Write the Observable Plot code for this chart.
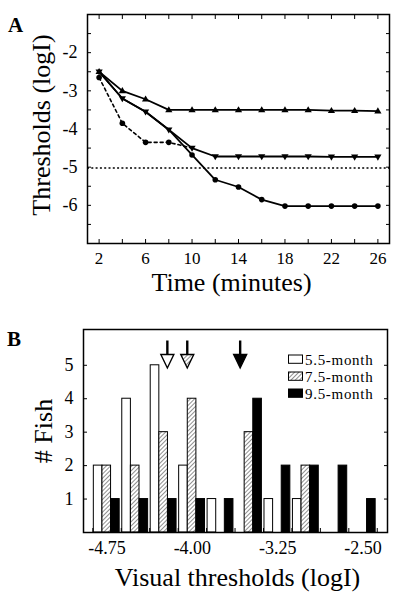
<!DOCTYPE html>
<html>
<head>
<meta charset="utf-8">
<script src="https://cdn.jsdelivr.net/npm/d3@7"></script>
<script src="https://cdn.jsdelivr.net/npm/@observablehq/plot@0.6"></script>
<style>
  html, body { margin: 0; padding: 0; background: #fff; }
  #wrap { position: relative; width: 400px; height: 602px; font-family: "Liberation Serif", "Times New Roman", serif; }
  #wrap > div > svg { display: block; }
  #overlay { position: absolute; left: 0; top: 0; pointer-events: none; }
</style>
</head>
<body>
<svg width="0" height="0" style="position:absolute">
  <defs>
    <pattern id="hatch" patternUnits="userSpaceOnUse" width="3" height="3" patternTransform="rotate(45)">
      <rect width="3" height="3" fill="white"></rect>
      <line x1="0" y1="0" x2="0" y2="3" stroke="#222" stroke-width="1"></line>
    </pattern>
  </defs>
</svg>
<div id="wrap">
  <div id="panelA"></div>
  <div id="panelB"></div>
</div>
<script>
// ---------------- Panel A data ----------------
const times = [2, 4, 6, 8, 10, 12, 14, 16, 18, 20, 22, 24, 26];
const seriesUp = [-2.5, -3.0, -3.22, -3.5, -3.5, -3.5, -3.5, -3.5, -3.5, -3.5, -3.52, -3.52, -3.53];
const seriesDown = [-2.5, -3.2, -3.55, -4.02, -4.5, -4.72, -4.72, -4.72, -4.72, -4.72, -4.73, -4.73, -4.73];
const seriesDotSolid = [-2.5, -3.2, -3.55, -4.02, -4.68, -5.33, -5.52, -5.85, -6.02, -6.02, -6.02, -6.02, -6.02];
const seriesDotDashed = [-2.65, -3.85, -4.35, -4.35, -4.5, null, null, null, null, null, null, null, null];
const referenceLevel = -5.02;
const xTickLabelsA = [2, 6, 10, 14, 18, 22, 26];
const xMinorA = [2, 4, 6, 8, 10, 12, 14, 16, 18, 20, 22, 24, 26];
const yTickLabelsA = [-2, -3, -4, -5, -6];
const yMinorA = [-6.5, -6, -5.5, -5, -4.5, -4, -3.5, -3, -2.5, -2, -1.5];
const xLabelA = "Time (minutes)";
const yLabelA = "Thresholds (logI)";

// ---------------- Panel B data ----------------
const binCenters = [-4.75, -4.5, -4.25, -4.0, -3.75, -3.5, -3.25, -3.0, -2.75, -2.5];
const ages = ["5.5-month", "7.5-month", "9.5-month"];
const counts55 = [2, 4, 5, 2, 1, 0, 1, 1, 0, 0];
const counts75 = [2, 2, 3, 4, 0, 3, 0, 2, 0, 0];
const counts95 = [1, 1, 1, 1, 1, 4, 2, 2, 2, 1];
const meanArrows = [-4.22, -4.045, -3.58];
const xTickLabelsB = [-4.75, -4.0, -3.25, -2.5];
const yTickLabelsB = [1, 2, 3, 4, 5];
const xLabelB = "Visual thresholds (logI)";
const yLabelB = "# Fish";

const FONT = "'Liberation Serif', 'Times New Roman', serif";

// symbols
const triUp = { draw(ctx, size) { const r = Math.sqrt(size / Math.PI); ctx.moveTo(0, -r * 1.05); ctx.lineTo(r, r * 0.65); ctx.lineTo(-r, r * 0.65); ctx.closePath(); } };
const triDown = { draw(ctx, size) { const r = Math.sqrt(size / Math.PI); ctx.moveTo(0, r * 1.05); ctx.lineTo(r, -r * 0.65); ctx.lineTo(-r, -r * 0.65); ctx.closePath(); } };
const arrowShaft = { draw(ctx) { ctx.moveTo(-1.2, -14); ctx.lineTo(1.2, -14); ctx.lineTo(1.2, 1); ctx.lineTo(-1.2, 1); ctx.closePath(); } };
const arrowHead = { draw(ctx) { ctx.moveTo(-6.5, 0); ctx.lineTo(6.5, 0); ctx.lineTo(0, 13.5); ctx.closePath(); } };

const rowsOf = (vals, name) => times.map((t, i) => ({t, v: vals[i], s: name})).filter(d => d.v != null);
const upRows = rowsOf(seriesUp, "up");
const downRows = rowsOf(seriesDown, "down");
const dotSolidRows = rowsOf(seriesDotSolid, "dotSolid");
const dotDashedRows = rowsOf(seriesDotDashed, "dotDashed");
const solidRows = [...upRows, ...downRows, ...dotSolidRows];
// a circle hidden under a triangle marker at the same point is not drawn
const notUnderTriangle = d => {
  const i = times.indexOf(d.t);
  return seriesDown[i] !== d.v && seriesUp[i] !== d.v;
};

const plotA = Plot.plot({
  width: 400, height: 300,
  marginTop: 14, marginLeft: 87, marginRight: 11, marginBottom: 57,
  style: {fontFamily: FONT, color: "black", background: "white", overflow: "visible"},
  x: {domain: [1, 27]},
  y: {domain: [-7, -1]},
  marks: [
    Plot.ruleY([referenceLevel], {strokeDasharray: "2,2.3", strokeWidth: 1.6}),
    Plot.line(solidRows, {x: "t", y: "v", z: "s", stroke: "black", strokeWidth: 1.8}),
    Plot.line(dotDashedRows, {x: "t", y: "v", stroke: "black", strokeWidth: 1.6, strokeDasharray: "3,3"}),
    Plot.dot(dotDashedRows.filter(notUnderTriangle), {x: "t", y: "v", r: 2.8, fill: "black"}),
    Plot.dot(dotSolidRows.filter(notUnderTriangle), {x: "t", y: "v", r: 2.8, fill: "black"}),
    Plot.dot(upRows, {x: "t", y: "v", r: 3.6, symbol: triUp, fill: "black"}),
    Plot.dot(downRows, {x: "t", y: "v", r: 3.6, symbol: triDown, fill: "black"}),
    Plot.axisX(xMinorA, {anchor: "bottom", tickSize: -4, fill: "none", label: null}),
    Plot.axisX(xMinorA, {anchor: "top", tickSize: -4, fill: "none", label: null}),
    Plot.axisX(xTickLabelsA, {anchor: "bottom", tickSize: 0, tickPadding: 8, fontSize: 17, label: null}),
    Plot.axisY(yMinorA, {anchor: "left", tickSize: -4, fill: "none", label: null}),
    Plot.axisY(yMinorA, {anchor: "right", tickSize: -4, fill: "none", label: null}),
    Plot.axisY(yTickLabelsA, {anchor: "left", tickSize: 0, tickPadding: 10, fontSize: 18, tickFormat: d => String(d), label: null}),
    Plot.frame({stroke: "black", strokeWidth: 1.5}),
    Plot.text([xLabelA], {text: d => d, frameAnchor: "bottom", dy: 39, dx: -7, fontSize: 26, textAnchor: "middle", lineAnchor: "middle"}),
    Plot.text([yLabelA], {text: d => d, frameAnchor: "left", dx: -46, dy: -4, rotate: -90, fontSize: 26, textAnchor: "middle", lineAnchor: "middle"})
  ]
});
document.getElementById("panelA").appendChild(plotA);

// ---------------- Panel B ----------------
const binWidth = 0.25;
const barWidth = binWidth * 0.303;
const barStart = binWidth * 0.035;
const countsByAge = [counts55, counts75, counts95];
const barRows = [];
ages.forEach((age, a) => binCenters.forEach((c, i) => {
  const n = countsByAge[a][i];
  if (n > 0) barRows.push({bin: c, a, age, n});
}));
const binEdges = [...binCenters.map(c => c - binWidth / 2), binCenters[binCenters.length - 1] + binWidth / 2];
const arrowRows = meanArrows.map((x, i) => ({x, age: ages[i]}));

const plotB = Plot.plot({
  width: 400, height: 302,
  marginTop: 29, marginLeft: 83, marginRight: 13, marginBottom: 70,
  style: {fontFamily: FONT, color: "black", background: "white", overflow: "visible"},
  x: {domain: [-4.957, -2.285]},
  y: {domain: [0, 6.07]},
  color: {domain: ages, range: ["white", "url(#hatch)", "black"]},
  marks: [
    Plot.rectY(barRows, {
      x1: d => d.bin - binWidth / 2 + barStart + d.a * barWidth,
      x2: d => d.bin - binWidth / 2 + barStart + (d.a + 1) * barWidth,
      y: "n", fill: "age", stroke: "black", strokeWidth: 1
    }),
    Plot.dot(arrowRows, {x: "x", frameAnchor: "top", dy: 25, r: 5, symbol: arrowShaft, fill: "black"}),
    Plot.dot(arrowRows, {x: "x", frameAnchor: "top", dy: 25, r: 5, symbol: arrowHead, fill: "age", stroke: "black", strokeWidth: 1.4}),
    Plot.axisX(binEdges, {anchor: "bottom", tickSize: -4, fill: "none", label: null}),
    Plot.axisX(xTickLabelsB, {anchor: "bottom", tickSize: 0, tickPadding: 9, fontSize: 18, tickFormat: d => d.toFixed(2), label: null}),
    Plot.axisY(yTickLabelsB, {anchor: "left", tickSize: -4, tickPadding: 14, fontSize: 18, tickFormat: d => String(d), label: null}),
    Plot.axisY(yTickLabelsB, {anchor: "right", tickSize: -4, fill: "none", label: null}),
    Plot.frame({stroke: "black", strokeWidth: 1.5}),
    Plot.text([xLabelB], {text: d => d, frameAnchor: "bottom", dy: 45, dx: 2, fontSize: 26, textAnchor: "middle", lineAnchor: "middle"}),
    Plot.text([yLabelB], {text: d => d, frameAnchor: "left", dx: -40, rotate: -90, fontSize: 26, textAnchor: "middle", lineAnchor: "middle"})
  ]
});
document.getElementById("panelB").appendChild(plotB);

// ---------------- overlay: panel letters and legend ----------------
const ov = d3.select("#wrap").append("svg").attr("id", "overlay").attr("width", 400).attr("height", 602)
  .style("font-family", FONT);
ov.append("text").attr("x", 8).attr("y", 32).attr("font-size", 21).attr("font-weight", "bold").text("A");
ov.append("text").attr("x", 7).attr("y", 346).attr("font-size", 21).attr("font-weight", "bold").text("B");
const legendFill = ["white", "url(#hatch)", "black"];
const legendStep = 17;
const legendTop = 364.5;
ov.selectAll("rect.leg").data(ages).join("rect").attr("class", "leg")
  .attr("x", 288.5).attr("y", (d, i) => legendTop + i * legendStep - 9.5).attr("width", 14).attr("height", 8.3)
  .attr("fill", (d, i) => legendFill[i]).attr("stroke", "black").attr("stroke-width", 1);
ov.selectAll("text.leg").data(ages).join("text").attr("class", "leg")
  .attr("x", 305).attr("y", (d, i) => legendTop + i * legendStep)
  .attr("font-size", 15).attr("letter-spacing", 0.7).text(d => d);
</script>
</body>
</html>
